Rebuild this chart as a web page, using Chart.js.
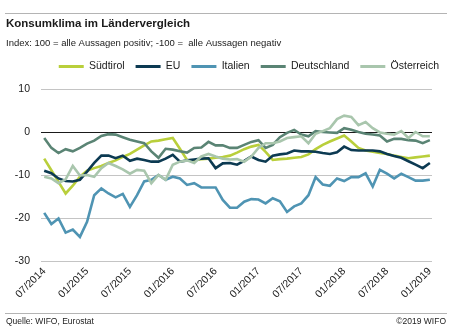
<!DOCTYPE html>
<html><head><meta charset="utf-8">
<script src="https://cdn.jsdelivr.net/npm/chart.js@4/dist/chart.umd.min.js"></script>
<style>html,body{margin:0;padding:0;background:#fff;}#wrap{width:450px;height:328px;}</style>
</head><body><div id="wrap"><canvas id="c" width="450" height="328"></canvas></div>
<script>
const months = ['07/2014','08/2014','09/2014','10/2014','11/2014','12/2014',
'01/2015','02/2015','03/2015','04/2015','05/2015','06/2015','07/2015','08/2015','09/2015','10/2015','11/2015','12/2015',
'01/2016','02/2016','03/2016','04/2016','05/2016','06/2016','07/2016','08/2016','09/2016','10/2016','11/2016','12/2016',
'01/2017','02/2017','03/2017','04/2017','05/2017','06/2017','07/2017','08/2017','09/2017','10/2017','11/2017','12/2017',
'01/2018','02/2018','03/2018','04/2018','05/2018','06/2018','07/2018','08/2018','09/2018','10/2018','11/2018','12/2018',
'01/2019'];
const seriesNames = ['Südtirol','EU','Italien','Deutschland','Österreich'];
const suedtirol = [-6.2,-8.9,-11.6,-14.3,-12.5,-10.4,-9.0,-8.4,-7.9,-7.2,-6.6,-5.8,-5.1,-4.1,-3.1,-2.2,-2.0,-1.7,-1.4,-3.9,-6.5,-6.6,-6.3,-6.2,-6.0,-5.8,-5.5,-4.8,-4.0,-3.4,-3.0,-4.6,-6.5,-6.3,-6.2,-6.0,-5.8,-5.2,-4.0,-3.0,-2.2,-1.5,-0.8,-2.2,-3.7,-4.3,-4.6,-4.9,-5.1,-5.5,-5.8,-6.1,-5.9,-5.7,-5.5];
const eu = [-9.0,-9.6,-10.8,-11.4,-11.5,-11.1,-9.2,-7.2,-5.5,-5.5,-6.1,-5.5,-6.7,-6.2,-6.5,-6.9,-6.9,-6.2,-5.3,-6.9,-6.6,-6.4,-6.2,-6.1,-8.4,-7.3,-7.2,-7.6,-6.7,-5.7,-6.5,-6.9,-5.5,-5.2,-5.0,-4.3,-4.5,-4.5,-4.6,-4.9,-5.1,-4.7,-3.4,-4.2,-4.3,-4.3,-4.3,-4.5,-5.1,-5.6,-6.0,-6.8,-7.6,-8.4,-7.2];
const italien = [-18.8,-21.4,-20.1,-23.4,-22.7,-24.4,-20.9,-14.7,-13.1,-14.3,-15.2,-14.4,-17.4,-14.7,-11.5,-11.1,-10.0,-11.1,-10.4,-10.8,-12.3,-11.9,-12.9,-12.9,-12.9,-15.8,-17.6,-17.6,-16.2,-15.6,-15.7,-16.6,-15.4,-16.1,-18.6,-17.3,-16.6,-14.7,-10.5,-12.2,-12.5,-10.8,-11.4,-10.5,-10.5,-9.6,-12.7,-8.8,-9.7,-10.8,-9.7,-10.5,-11.3,-11.3,-11.1];
const deutschland = [-1.4,-3.7,-4.9,-4.0,-4.5,-3.7,-2.7,-2.0,-0.9,-0.5,-0.6,-1.2,-1.8,-2.2,-2.6,-4.5,-6.0,-3.9,-4.1,-4.5,-4.8,-3.7,-3.6,-2.3,-3.1,-3.1,-3.7,-3.7,-3.0,-2.3,-1.9,-3.7,-3.0,-1.2,-0.2,0.5,-0.6,-1.0,0.2,0.0,-0.1,-0.2,0.9,0.5,0.0,-0.4,-0.6,-0.8,-2.2,-1.6,-1.6,-1.9,-2.0,-2.6,-1.9];
const oesterreich = [-10.4,-10.8,-11.9,-11.0,-7.9,-10.1,-10.0,-10.4,-8.4,-7.2,-7.9,-8.7,-9.7,-8.8,-9.0,-11.9,-10.0,-11.1,-7.6,-6.9,-6.6,-7.2,-5.7,-5.1,-5.7,-6.2,-6.4,-6.3,-6.9,-5.7,-3.7,-2.6,-2.6,-2.2,-1.4,-1.2,-1.0,-2.6,-0.4,0.2,0.9,3.0,3.8,3.5,1.6,2.3,0.9,-0.1,-0.4,-0.6,0.2,-1.4,0.0,-1.0,-1.0];
const yTicks = [10,0,-10,-20,-30];
const tickMonths = ['07/2014','01/2015','07/2015','01/2016','07/2016','01/2017','07/2017','01/2018','07/2018','01/2019'];

const FONT = "'Liberation Sans', Arial, sans-serif";
const colors = ['#b9cf3b','#0c3a52','#4f94b3','#5a8474','#a9c6ad'];
const allSeries = [suedtirol, eu, italien, deutschland, oesterreich];

const datasets = allSeries.map((vals, k) => ({
  label: seriesNames[k],
  data: vals.map((v, i) => ({x: i, y: v})),
  borderColor: colors[k],
  backgroundColor: colors[k],
  borderWidth: 2.6,
  pointRadius: 0,
  tension: 0,
  order: 4 - k
}));

const frame = {
  id: 'frame',
  afterDraw(chart) {
    const ctx = chart.ctx;
    ctx.save();
    ctx.strokeStyle = '#b4b4b4';
    ctx.lineWidth = 1;
    ctx.beginPath();
    ctx.moveTo(5, 13.5); ctx.lineTo(447, 13.5);
    ctx.moveTo(5, 313.5); ctx.lineTo(447, 313.5);
    ctx.stroke();
    ctx.fillStyle = '#222';
    ctx.font = "8.5px " + FONT;
    ctx.textBaseline = 'alphabetic';
    ctx.textAlign = 'left';
    ctx.fillText('Quelle: WIFO, Eurostat', 6, 324);
    ctx.textAlign = 'right';
    ctx.fillText('\u00A92019 WIFO', 446, 324);
    ctx.restore();
  }
};

new Chart(document.getElementById('c'), {
  type: 'line',
  data: { datasets },
  plugins: [frame],
  options: {
    responsive: false,
    animation: false,
    devicePixelRatio: 1,
    layout: { padding: { left: 6, right: 0, top: 0, bottom: 0 } },
    plugins: {
      tooltip: { enabled: false },
      title: {
        display: true, text: 'Konsumklima im Ländervergleich', align: 'start', color: '#1a1a1a',
        font: { family: FONT, size: 11.5, weight: 'bold' }, padding: { top: 17.1, bottom: 0 }
      },
      subtitle: {
        display: true, text: 'Index: 100 = alle Aussagen positiv; -100 =  alle Aussagen negativ', align: 'start', color: '#1a1a1a',
        font: { family: FONT, size: 9.5 }, padding: { top: 7.1, bottom: 0.85 }
      },
      legend: {
        display: true, position: 'top', align: 'end',
        labels: {
          boxWidth: 25, boxHeight: 3, padding: 11, color: '#1a1a1a',
          font: { family: FONT, size: 10.5 },
          sort: (a, b) => a.datasetIndex - b.datasetIndex,
          generateLabels(chart) {
            const items = Chart.defaults.plugins.legend.labels.generateLabels(chart);
            items.forEach(it => { it.fillStyle = it.strokeStyle; it.lineWidth = 0; });
            return items;
          }
        }
      }
    },
    scales: {
      x: {
        type: 'linear', min: -0.45, max: 54.3,
        grid: { display: false, drawTicks: false },
        border: { display: false },
        afterBuildTicks(s) { s.ticks = tickMonths.map(m => ({ value: months.indexOf(m) })); },
        afterFit(s) { s.height = 67; },
        ticks: {
          autoSkip: false, minRotation: 45, maxRotation: 45, padding: 4, color: '#1a1a1a',
          font: { family: FONT, size: 10.5 },
          callback: (v) => months[v]
        }
      },
      y: {
        type: 'linear', min: -30, max: 10,
        afterBuildTicks(s) { s.ticks = yTicks.map(v => ({ value: v })); },
        afterFit(s) { s.width = 35; },
        grid: {
          drawTicks: false,
          color: (c) => (c.tick && c.tick.value === 0) ? '#1a1a1a' : '#c4c4c4',
          lineWidth: 1
        },
        border: { display: false },
        ticks: { padding: 11, color: '#1a1a1a', font: { family: FONT, size: 10.5 } }
      },
      padTop: {
        type: 'linear', axis: 'x', position: 'top', display: true,
        grid: { display: false, drawTicks: false }, border: { display: false },
        ticks: { display: false }, afterFit(s) { s.height = 7.25; }
      },
      padRight: {
        type: 'linear', axis: 'y', position: 'right', display: true,
        grid: { display: false, drawTicks: false }, border: { display: false },
        ticks: { display: false }, afterFit(s) { s.width = 18; }
      }
    }
  }
});
</script>
</body></html>
